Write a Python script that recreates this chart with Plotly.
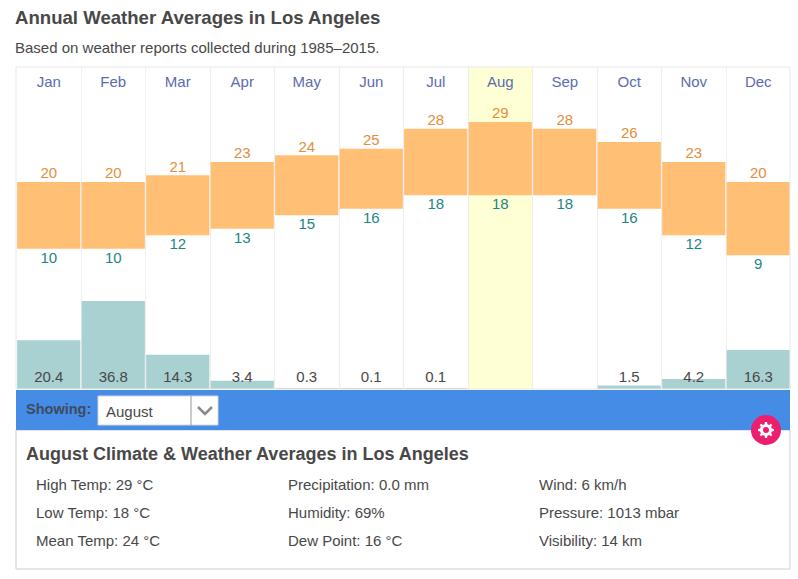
#!/usr/bin/env python3
"""Annual weather averages for Los Angeles, with the month detail panel below."""

import math

import plotly.graph_objects as go

months = ['Jan', 'Feb', 'Mar', 'Apr', 'May', 'Jun', 'Jul', 'Aug', 'Sep', 'Oct', 'Nov', 'Dec']
high_temp = [20, 20, 21, 23, 24, 25, 28, 29, 28, 26, 23, 20]
low_temp = [10, 10, 12, 13, 15, 16, 18, 18, 18, 16, 12, 9]
precip = [20.4, 36.8, 14.3, 3.4, 0.3, 0.1, 0.1, 0.0, 0.0, 1.5, 4.2, 16.3]
selected_month = 'Aug'

panel_col1 = ['High Temp: 29 °C', 'Low Temp: 18 °C', 'Mean Temp: 24 °C']
panel_col2 = ['Precipitation: 0.0 mm', 'Humidity: 69%', 'Dew Point: 16 °C']
panel_col3 = ['Wind: 6 km/h', 'Pressure: 1013 mbar', 'Visibility: 14 km']

W, H = 798, 579
FONT = 'Liberation Sans'
TEXT = '#484848'
BAR_WIDTH = 0.98


def px(x):
    return x / W


def py(y):
    return 1 - y / H


def label(x, y, text, size=15, color=TEXT, bold=False, xanchor='left'):
    # annotations carry about 2px of padding, so pull them back
    return dict(x=px(x - 2), y=py(y), xref='paper', yref='paper', text=f'<b>{text}</b>' if bold else text,
                showarrow=False, xanchor=xanchor, yanchor='middle',
                font=dict(family=FONT, size=size, color=color))


def box(x0, y0, x1, y1, fill, line=None, layer='above', kind='rect'):
    return dict(type=kind, xref='paper', yref='paper', x0=px(x0), x1=px(x1), y0=py(y0), y1=py(y1),
                fillcolor=fill, line=dict(color=line or fill, width=1 if line else 0), layer=layer)


def paper_path(points, color, width=2):
    d = 'M' + ' L'.join(f'{px(x):.5f},{py(y):.5f}' for x, y in points)
    return dict(type='path', xref='paper', yref='paper', path=d, line=dict(color=color, width=width))


def gear_path(cx, cy, outer=8.0, inner=6.0, teeth=8):
    # settings icon, drawn as a closed polygon
    pts = []
    for i in range(teeth):
        a = 2 * math.pi * i / teeth
        step = 2 * math.pi / teeth
        for off, r in [(-0.3, inner), (-0.17, outer), (0.17, outer), (0.3, inner)]:
            t = a + off * step
            pts.append((cx + r * math.cos(t), cy + r * math.sin(t)))
    d = 'M' + ' L'.join(f'{px(x):.5f},{py(y):.5f}' for x, y in pts) + ' Z'
    return dict(type='path', xref='paper', yref='paper', path=d, fillcolor='white', line=dict(width=0))


fig = go.Figure()

# temperature range bars
fig.add_trace(go.Bar(x=months, y=[h - l for h, l in zip(high_temp, low_temp)], base=low_temp, width=BAR_WIDTH,
                     marker=dict(color='#FFBF75', line=dict(width=0)), hoverinfo='skip'))
# precipitation on its own scale
fig.add_trace(go.Bar(x=months, y=precip, width=BAR_WIDTH, yaxis='y2',
                     marker=dict(color='#A9D1D1', line=dict(width=0)), hoverinfo='skip'))

# invisible markers push the labels a little further off the bar ends
spacer = dict(size=3, opacity=0)
fig.add_trace(go.Scatter(x=months, y=high_temp, mode='text', text=[str(v) for v in high_temp],
                         textposition='top center', textfont=dict(family=FONT, size=15, color='#E38E3A')))
fig.add_trace(go.Scatter(x=months, y=low_temp, mode='markers+text', marker=spacer, text=[str(v) for v in low_temp],
                         textposition='bottom center', textfont=dict(family=FONT, size=15, color='#1E8585')))
fig.add_trace(go.Scatter(x=months, y=[0] * len(months), yaxis='y2', mode='markers+text', marker=spacer,
                         text=[f'{v:.1f}' if v > 0 else '' for v in precip],
                         textposition='top center', textfont=dict(family=FONT, size=15, color='#484848')))

sel = months.index(selected_month)
shapes = [
    dict(type='rect', xref='x', yref='paper', x0=sel - 0.5, x1=sel + 0.5, y0=py(389), y1=py(67),
         fillcolor='#FFFFD6', line=dict(width=0), layer='below'),
    box(16, 67, 790, 389, 'rgba(0,0,0,0)', '#E8E8E8'),
    box(16, 430, 790, 569, 'white', '#CCCCCC'),
    box(16, 390, 790, 430, '#458CE6'),
    box(98, 396, 218, 425, 'white', '#D5D5D5'),
    paper_path([(191, 396), (191, 425)], '#999999', 1),
    paper_path([(198, 407), (205, 414), (212, 407)], '#8A8A8A', 2.5),
    box(751, 415, 781, 445, '#EC1E6E', kind='circle'),
    gear_path(766, 430),
    box(763, 427, 769, 433, '#EC1E6E', kind='circle'),
]

annotations = [
    label(15, 17, 'Annual Weather Averages in Los Angeles', size=18.6, bold=True),
    label(15, 48, 'Based on weather reports collected during 1985–2015.'),
    label(26, 409, 'Showing:', size=14.5, color='#3F4A5C', bold=True),
    label(106, 411, 'August'),
    label(26, 454, 'August Climate &amp; Weather Averages in Los Angeles', size=18, bold=True),
]
for col_x, col in zip([36, 288, 539], [panel_col1, panel_col2, panel_col3]):
    for row_y, text in zip([484, 512, 540], col):
        annotations.append(label(col_x, row_y, text))

fig.update_layout(
    width=W, height=H,
    margin=dict(l=0, r=0, t=0, b=0),
    paper_bgcolor='white', plot_bgcolor='white',
    showlegend=False, barmode='overlay',
    xaxis=dict(domain=[px(16.5), px(790.5)], type='category', categoryorder='array', categoryarray=months,
               range=[-0.5, 11.5], side='top', anchor='y', tickson='boundaries', showgrid=True, gridcolor='#EEEEEE',
               ticks='', ticklabelposition='inside', ticklabelstandoff=6, fixedrange=True,
               tickfont=dict(family=FONT, size=15, color='#5C6BAF')),
    yaxis=dict(domain=[py(389), py(67)], range=[-11.05, 37.25], visible=False, fixedrange=True),
    yaxis2=dict(domain=[py(389), py(67)], range=[0, 134.7], overlaying='y', visible=False, fixedrange=True),
    shapes=shapes,
    annotations=annotations,
)

# the page default body margin would shift everything by 8px
fig.write_html('out.html', config={'displayModeBar': False}, post_script="document.body.style.margin = '0';")
